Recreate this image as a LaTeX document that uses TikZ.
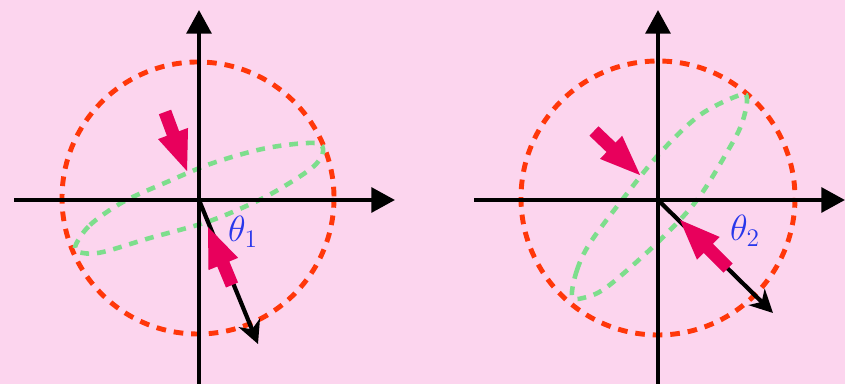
\documentclass[tikz,border=0pt]{standalone}
\usetikzlibrary{arrows.meta,calc}
\definecolor{bgpink}{RGB}{252,213,238}
\definecolor{ringred}{RGB}{255,55,10}
\definecolor{orbitgreen}{RGB}{125,222,140}
\definecolor{hotpink}{RGB}{232,0,92}
\definecolor{thetablue}{RGB}{40,55,235}
% fat pointer: #1 tail, #2 tip
\newcommand{\hotarrow}[2]{%
  \coordinate (hb) at ($(#2)!0.8cm!(#1)$);
  \fill[black, opacity=0.12, shift={(2,3)}] (#2) -- ($(hb)!0.32cm!90:(#2)$) -- ($(hb)!0.13cm!90:(#2)$)
    -- ($(#1)!0.13cm!90:(#2)$) -- ($(#1)!0.13cm!-90:(#2)$) -- ($(hb)!0.13cm!-90:(#2)$)
    -- ($(hb)!0.32cm!-90:(#2)$) -- cycle;
  \fill[hotpink] (#2) -- ($(hb)!0.32cm!90:(#2)$) -- ($(hb)!0.13cm!90:(#2)$)
    -- ($(#1)!0.13cm!90:(#2)$) -- ($(#1)!0.13cm!-90:(#2)$) -- ($(hb)!0.13cm!-90:(#2)$)
    -- ($(hb)!0.32cm!-90:(#2)$) -- cycle;}
\begin{document}
\begin{tikzpicture}[x=0.02cm, y=-0.02cm,
    axis/.style = {line width=2.5pt, -{Triangle[length=13.5pt, width=14pt]}},
    ring/.style = {draw=ringred, line width=2.8pt, dash pattern=on 5.5pt off 4.5pt},
    orbit/.style = {draw=orbitgreen, line width=2.6pt, dash pattern=on 5pt off 4.5pt},
    vec/.style = {line width=2.4pt, -{Stealth[length=13pt, width=13pt, inset=4pt]}},
    anglelbl/.style = {text=thetablue, font=\huge, inner sep=0pt}]
\fill[bgpink] (0,0) rectangle (845,384);
\useasboundingbox (0,0) rectangle (845,384);
% left panel
\draw[ring] (198,198) circle (136);
\draw[orbit] plot[smooth cycle, tension=0.55] coordinates {(75,247) (90,225) (123,202) (167,182)
  (213,163) (267,148) (315,143) (323,152) (313,167) (283,187) (253,203) (207,222) (150,238)
  (103,252) (83,253)};
\coordinate (o1) at (199,200);
\coordinate (xl1) at (14,200);
\coordinate (xr1) at (395,200);
\coordinate (yb1) at (199,384);
\coordinate (yt1) at (199,10);
\coordinate (v1) at (258,344);
\draw[axis] (xl1) -- (xr1);
\draw[axis] (yb1) -- (yt1);
\draw[vec] (o1) -- (v1);
\coordinate (p1a) at (165,112);
\coordinate (p1b) at (187,171);
\coordinate (p2a) at (232,285);
\coordinate (p2b) at (208,227);
\hotarrow{p1a}{p1b}
\hotarrow{p2a}{p2b}
\node (th1) at (243,232) [anglelbl] {$\theta_1$};
% right panel
\draw[ring] (658,198) circle (137);
\draw[orbit] plot[smooth cycle, tension=0.55] coordinates {(572,296) (577,270) (590,243) (622,200)
  (660,153) (700,115) (740,95) (747,100) (742,123) (730,147) (697,200) (657,243) (607,287)
  (583,298)};
\coordinate (o2) at (658,200);
\coordinate (xl2) at (474,200);
\coordinate (xr2) at (845,200);
\coordinate (yb2) at (658,384);
\coordinate (yt2) at (658,10);
\coordinate (v2) at (773,313);
\draw[axis] (xl2) -- (xr2);
\draw[axis] (yb2) -- (yt2);
\draw[vec] (o2) -- (v2);
\coordinate (p3a) at (594,131);
\coordinate (p3b) at (640,175);
\coordinate (p4a) at (728,268);
\coordinate (p4b) at (680,220);
\hotarrow{p3a}{p3b}
\hotarrow{p4a}{p4b}
\node (th2) at (745,231) [anglelbl] {$\theta_2$};
\end{tikzpicture}
\end{document}
